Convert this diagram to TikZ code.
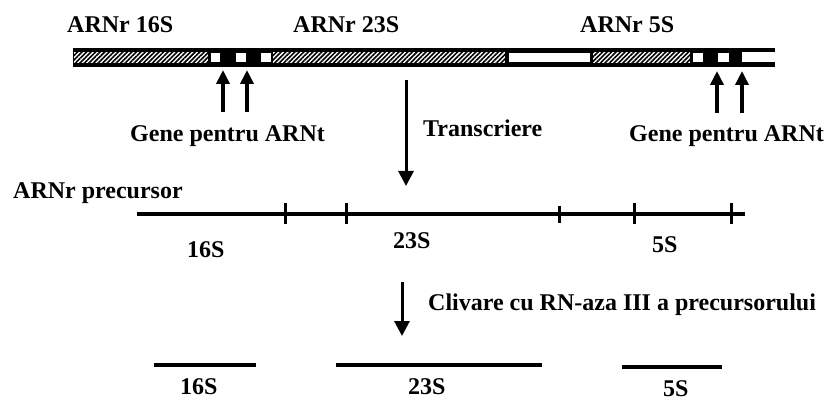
\documentclass[tikz,border=0pt]{standalone}
\usepackage{fontspec}
\setmainfont{Liberation Serif}[BoldFont={Liberation Serif Bold}]
\usetikzlibrary{arrows.meta,patterns.meta}
\begin{document}
\begin{tikzpicture}[x=1pt,y=-1pt,
  lbl/.style={font=\fontsize{24}{28}\selectfont\bfseries, inner sep=0pt, anchor=base west},
  uparrow/.style={line width=3.5pt, -{Triangle[width=13pt,length=14pt]}},
  downarrow/.style={line width=3pt, -{Triangle[width=15pt,length=15pt]}},
  rnaline/.style={line width=3.5pt},
  tickmark/.style={line width=3pt},
  hatch/.style={fill=white, postaction={pattern={Lines[angle=45,distance=3.2pt,line width=1.6pt]}}},
  hole/.style={fill=white}]
\useasboundingbox (0,0) rectangle (836,401);

% ---- DNA operon bar ----
\fill (73,48) rectangle (742,67);
\fill (742,48) rectangle (775,52.5);
\fill (742,62) rectangle (775,67);
\path[hatch] (74,52) rectangle (208,63);
\path[hatch] (273,52) rectangle (505,63);
\path[hatch] (593,52) rectangle (690,63);
\path[hole] (509,52.7) rectangle (590,62);
\path[hole] (211,52.7) rectangle (220,61.7);
\path[hole] (236,52.7) rectangle (246,61.7);
\path[hole] (261,52.7) rectangle (271,61.7);
\path[hole] (693,52.7) rectangle (703,61.7);
\path[hole] (718,52.7) rectangle (729,61.7);

% ---- top labels ----
\node[lbl] (l16) at (67,33) {ARNr 16S};
\node[lbl] (l23) at (293,33) {ARNr 23S};
\node[lbl] (l5) at (580,33) {ARNr 5S};

% ---- tRNA gene arrows ----
\coordinate (a1s) at (223,112); \coordinate (a1e) at (223,70);
\coordinate (a2s) at (247,112); \coordinate (a2e) at (247,70);
\coordinate (a3s) at (717,113); \coordinate (a3e) at (717,71);
\coordinate (a4s) at (742,113); \coordinate (a4e) at (742,71);
\draw[uparrow] (a1s) -- (a1e);
\draw[uparrow] (a2s) -- (a2e);
\draw[uparrow] (a3s) -- (a3e);
\draw[uparrow] (a4s) -- (a4e);
\node[lbl] (g1) at (130,142) {Gene pentru ARNt};
\node[lbl] (g2) at (629,142) {Gene pentru ARNt};

% ---- transcription ----
\coordinate (t1) at (406,80); \coordinate (t2) at (406,186);
\draw[downarrow] (t1) -- (t2);
\node[lbl] (tr) at (423,137) {Transcriere};

% ---- precursor ----
\node[lbl] (prec) at (13,199) {ARNr precursor};
\coordinate (pl) at (137,214); \coordinate (pr) at (745,214);
\draw[rnaline] (pl) -- (pr);
\foreach \x in {285,346,634,731}{
  \draw[tickmark] (\x,203) -- (\x,224);
}
\draw[tickmark] (559,206) -- (559,223);
\node[lbl] (p16) at (187,257) {16S};
\node[lbl] (p23) at (393,248) {23S};
\node[lbl] (p5) at (652,252) {5S};

% ---- cleavage ----
\coordinate (c1) at (402,282); \coordinate (c2) at (402,336);
\draw[downarrow] (c1) -- (c2);
\node[lbl] (cl) at (428,310) {Clivare cu RN-aza III a precursorului};

% ---- mature rRNAs ----
\coordinate (m16a) at (154,365); \coordinate (m16b) at (256,365);
\coordinate (m23a) at (336,365); \coordinate (m23b) at (542,365);
\coordinate (m5a) at (622,367); \coordinate (m5b) at (722,367);
\draw[rnaline] (m16a) -- (m16b);
\draw[rnaline] (m23a) -- (m23b);
\draw[rnaline] (m5a) -- (m5b);
\node[lbl] (f16) at (180,394) {16S};
\node[lbl] (f23) at (408,394) {23S};
\node[lbl] (f5) at (663,396) {5S};
\end{tikzpicture}
\end{document}
